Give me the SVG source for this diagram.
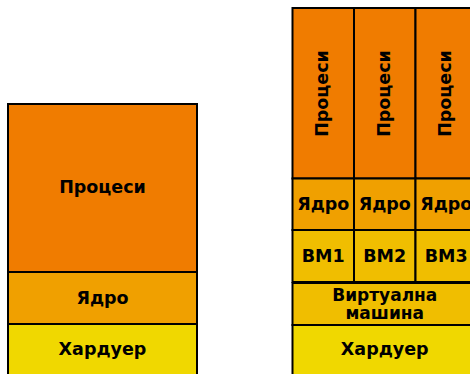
<svg xmlns="http://www.w3.org/2000/svg" width="470" height="374" viewBox="0 0 470 374">
<style>
.b{stroke:#000;stroke-width:2}
.p{fill:#f07c00}.k{fill:#f0a000}.v{fill:#f0be00}.h{fill:#f0d800}
text{font-family:"DejaVu Sans",sans-serif;font-weight:bold;font-size:17.5px;fill:#000;text-anchor:middle}
.s{font-size:17px}
</style>
<rect width="470" height="374" fill="#fff"/>
<g id="left-stack">
<g id="l-proc"><rect class="b p" x="8" y="104" width="189" height="168"/><text x="102.5" y="192.5">Процеси</text></g>
<g id="l-kernel"><rect class="b k" x="8" y="272" width="189" height="52"/><text x="102.5" y="304">Ядро</text></g>
<g id="l-hw"><rect class="b h" x="8" y="324" width="189" height="60"/><text x="102.5" y="354.5">Хардуер</text></g>
</g>
<g id="right-stack">
<g id="r-proc1"><rect class="b p" x="292.5" y="8" width="61.5" height="170.5"/><text transform="translate(328,93.5) rotate(-90)">Процеси</text></g>
<g id="r-proc2"><rect class="b p" x="354" y="8" width="61.5" height="170.5"/><text transform="translate(389.5,93.5) rotate(-90)">Процеси</text></g>
<g id="r-proc3"><rect class="b p" x="415.5" y="8" width="61.5" height="170.5"/><text transform="translate(451,93.5) rotate(-90)">Процеси</text></g>
<g id="r-kern1"><rect class="b k" x="292.5" y="178.5" width="61.5" height="51.5"/><text x="323.25" y="209.5">Ядро</text></g>
<g id="r-kern2"><rect class="b k" x="354" y="178.5" width="61.5" height="51.5"/><text x="384.75" y="209.5">Ядро</text></g>
<g id="r-kern3"><rect class="b k" x="415.5" y="178.5" width="61.5" height="51.5"/><text x="446.25" y="209.5">Ядро</text></g>
<g id="r-vm1"><rect class="b v" x="292.5" y="230" width="61.5" height="52"/><text x="323.25" y="262">ВМ1</text></g>
<g id="r-vm2"><rect class="b v" x="354" y="230" width="61.5" height="52"/><text x="384.75" y="262">ВМ2</text></g>
<g id="r-vm3"><rect class="b v" x="415.5" y="230" width="61.5" height="52"/><text x="446.25" y="262">ВМ3</text></g>
<g id="r-hyp"><rect class="b v" x="292.5" y="283" width="184.5" height="42"/><text class="s" x="384.75" y="301">Виртуална</text><text class="s" x="384.75" y="319">машина</text></g>
<g id="r-hw"><rect class="b h" x="292.5" y="325" width="184.5" height="60"/><text x="384.75" y="354.5">Хардуер</text></g>
</g>
<g id="connectors"/>
</svg>
